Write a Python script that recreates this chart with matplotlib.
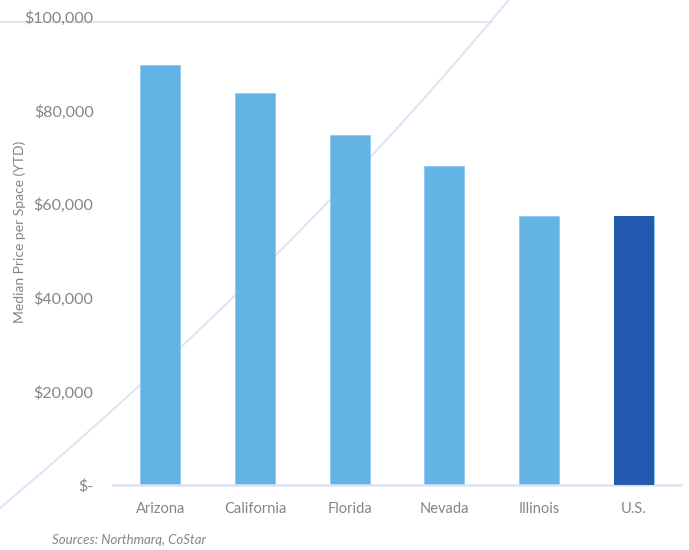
import matplotlib
matplotlib.use("Agg")
import matplotlib.pyplot as plt
from matplotlib.path import Path
from matplotlib.patches import PathPatch
from matplotlib.lines import Line2D
from matplotlib.ticker import FuncFormatter

states = ["Arizona", "California", "Florida", "Nevada", "Illinois", "U.S."]
price = [89700, 83800, 74700, 68100, 57500, 57500]
colors = ["#63b4e5", "#63b4e5", "#63b4e5", "#63b4e5", "#63b4e5", "#2459b0"]
yticks = [0, 20000, 40000, 60000, 80000, 100000]

plt.rcParams['font.family'] = ['Lato', 'DejaVu Sans']
gray = "#858585"
deco = "#e3e3f5"

W, H = 689, 550
fig = plt.figure(figsize=(W / 100, H / 100), dpi=100)

# decorative curve + top rule (figure pixel coords, origin top-left)
def px(x, y):
    return (x / W, 1 - y / H)

curve = Path([px(-20, 525), px(297, 260), px(525, -20)],
             [Path.MOVETO, Path.CURVE3, Path.CURVE3])
fig.patches.append(PathPatch(curve, transform=fig.transFigure, fill=False,
                             edgecolor=deco, linewidth=1.5, zorder=0))
x0, y0 = px(0, 22)
x1, y1 = px(492, 22)
fig.lines.append(Line2D([x0, x1], [y0, y1], transform=fig.transFigure,
                        color=deco, linewidth=1.5, zorder=0))

ax = fig.add_axes([113 / W, 1 - 485 / H, 568 / W, 468 / H], zorder=2)
ax.patch.set_alpha(0)
ax.bar(states, price, width=0.42, color=colors, edgecolor="#8fcaf0",
       linewidth=0.6, zorder=2)
ax.bar(states[-1:], price[-1:], width=0.42, color=colors[-1], zorder=3)

ax.set_ylim(0, 100000)
ax.set_xlim(-0.5, len(states) - 0.5)
ax.set_yticks(yticks)
ax.yaxis.set_major_formatter(FuncFormatter(
    lambda v, p: "$-" if v == 0 else "${:,.0f}".format(v)))
ax.tick_params(axis="y", length=0, pad=14, labelsize=11.5, labelcolor=gray)
ax.tick_params(axis="x", length=0, pad=12, labelsize=10.5, labelcolor=gray)

for s in ["top", "right", "left"]:
    ax.spines[s].set_visible(False)
ax.spines["bottom"].set_color("#dde2f2")
ax.spines["bottom"].set_linewidth(1.8)

fig.text(20 / W, 1 - 232 / H, "Median Price per Space (YTD)", rotation=90,
         ha="center", va="center", fontsize=10, color=gray)
fig.text(52 / W, 1 - 540 / H, "Sources: Northmarq, CoStar", ha="left",
         va="center", fontsize=9.5, color=gray, style="italic")

fig.savefig("out.png", dpi=100)
